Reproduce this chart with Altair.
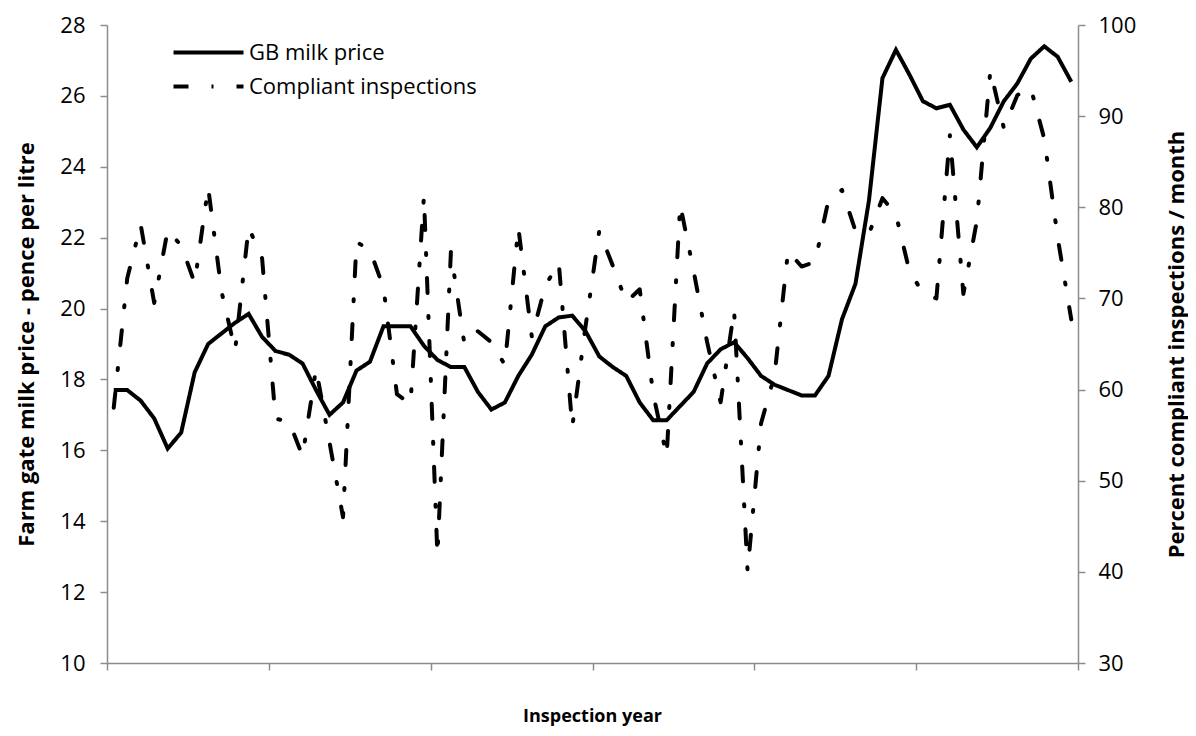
import altair as alt
import pandas as pd

# Monthly series (72 months, 6 inspection years)
milk_price = [17.7, 17.7, 17.4, 16.9, 16.05, 16.5, 18.2, 19.0, 19.3, 19.6, 19.85, 19.2,
              18.8, 18.7, 18.45, 17.7, 17.0, 17.35, 18.25, 18.5, 19.5, 19.5, 19.5, 18.95,
              18.55, 18.35, 18.35, 17.65, 17.15, 17.35, 18.1, 18.7, 19.5, 19.75, 19.8, 19.35,
              18.65, 18.35, 18.1, 17.35, 16.85, 16.85, 17.25, 17.65, 18.45, 18.85, 19.05, 18.6,
              18.1, 17.85, 17.7, 17.55, 17.55, 18.1, 19.7, 20.7, 23.05, 26.5, 27.3, 26.6,
              25.85, 25.65, 25.75, 25.05, 24.55, 25.1, 25.85, 26.35, 27.05, 27.4, 27.1, 26.4]
compliant = [58.0, 72.2, 78.1, 69.5, 77.5, 75.8, 71.7, 82.2, 70.7, 64.3, 77.8, 74.4,
             56.8, 56.5, 52.7, 62.3, 54.2, 46.0, 76.2, 75.3, 71.2, 59.5, 58.4, 81.2,
             41.8, 75.1, 65.0, 66.4, 65.2, 62.7, 77.8, 65.8, 71.4, 73.9, 55.9, 67.1,
             77.4, 73.6, 69.6, 71.0, 59.5, 52.7, 80.3, 73.0, 65.2, 58.6, 68.7, 40.1,
             56.3, 61.6, 75.2, 73.5, 74.0, 80.8, 81.9, 77.4, 77.1, 81.0, 79.2, 73.0,
             70.6, 70.0, 87.9, 70.5, 78.5, 95.0, 88.7, 92.3, 93.1, 87.5, 76.6, 67.7]
series_names = ["GB milk price", "Compliant inspections"]
year_ticks = [0, 12, 24, 36, 48, 60, 72]
left_ticks = [10, 12, 14, 16, 18, 20, 22, 24, 26, 28]
right_ticks = [30, 40, 50, 60, 70, 80, 90, 100]

df = pd.DataFrame({
    "month": [i + 0.5 for i in range(len(milk_price))],
    series_names[0]: milk_price,
    series_names[1]: compliant,
})

FONT = "Open Sans"
AX = "#8c8c8c"

dash_scale = alt.Scale(domain=series_names, range=[[1, 0], [15, 23, 2, 23]])

x_enc = alt.X("month:Q", scale=alt.Scale(domain=[0, 72], nice=False, zero=False),
              axis=alt.Axis(values=year_ticks, labels=False, grid=False, tickSize=7,
                            title="Inspection year", titleX=485, titleY=58,
                            titleFontSize=18,
                            titleBaseline="alphabetic", titleAlign="center"))

base = alt.Chart(df).transform_fold(series_names, as_=["series", "value"])

price_line = base.transform_filter(alt.datum.series == series_names[0]).mark_line(
    color="black", strokeWidth=4, strokeJoin="miter"
).encode(
    x=x_enc,
    y=alt.Y("value:Q", scale=alt.Scale(domain=[10, 28], nice=False, zero=False),
            axis=alt.Axis(orient="left", values=left_ticks, grid=False, tickSize=7,
                          labelPadding=15,
                          title="Farm gate milk price - pence per litre",
                          titleX=-81, titleY=319, titleAngle=270,
                          titleBaseline="middle", titleAlign="center")),
    strokeDash=alt.StrokeDash("series:N", scale=dash_scale,
                              legend=alt.Legend(title=None, orient="none", legendX=82, legendY=8,
                                                symbolType="M-2,0H2", symbolSize=1225,
                                                symbolStrokeWidth=4, symbolStrokeColor="black",
                                                labelFontSize=22, labelFont=FONT, labelColor="black",
                                                labelLimit=0, rowPadding=3, labelOffset=21)),
)

comp_line = base.transform_filter(alt.datum.series == series_names[1]).mark_line(
    color="black", strokeWidth=4, strokeCap="round", strokeJoin="round"
).encode(
    x=x_enc,
    y=alt.Y("value:Q", scale=alt.Scale(domain=[30, 100], nice=False, zero=False),
            axis=alt.Axis(orient="right", values=right_ticks, grid=False, tickSize=7,
                          labelPadding=13,
                          title="Percent compliant inspections / month",
                          titleX=98, titleY=319, titleAngle=270,
                          titleBaseline="middle", titleAlign="center")),
    strokeDash=alt.StrokeDash("series:N", scale=dash_scale),
)

chart = alt.layer(price_line, comp_line).resolve_scale(y="independent").properties(
    width=971, height=638,
    autosize=alt.AutoSizeParams(type="none"),
    padding={"left": 99, "top": 17, "right": 110, "bottom": 65},
).configure_view(stroke=None).configure_axis(
    domainColor=AX, tickColor=AX, domainWidth=1.5, tickWidth=1.5,
    labelFont=FONT, labelFontSize=22, labelColor="black",
    titleFont=FONT, titleFontSize=22, titleFontWeight="bold", titleColor="black",
)

chart.save("out.html", embed_options={"renderer": "svg", "actions": False})
